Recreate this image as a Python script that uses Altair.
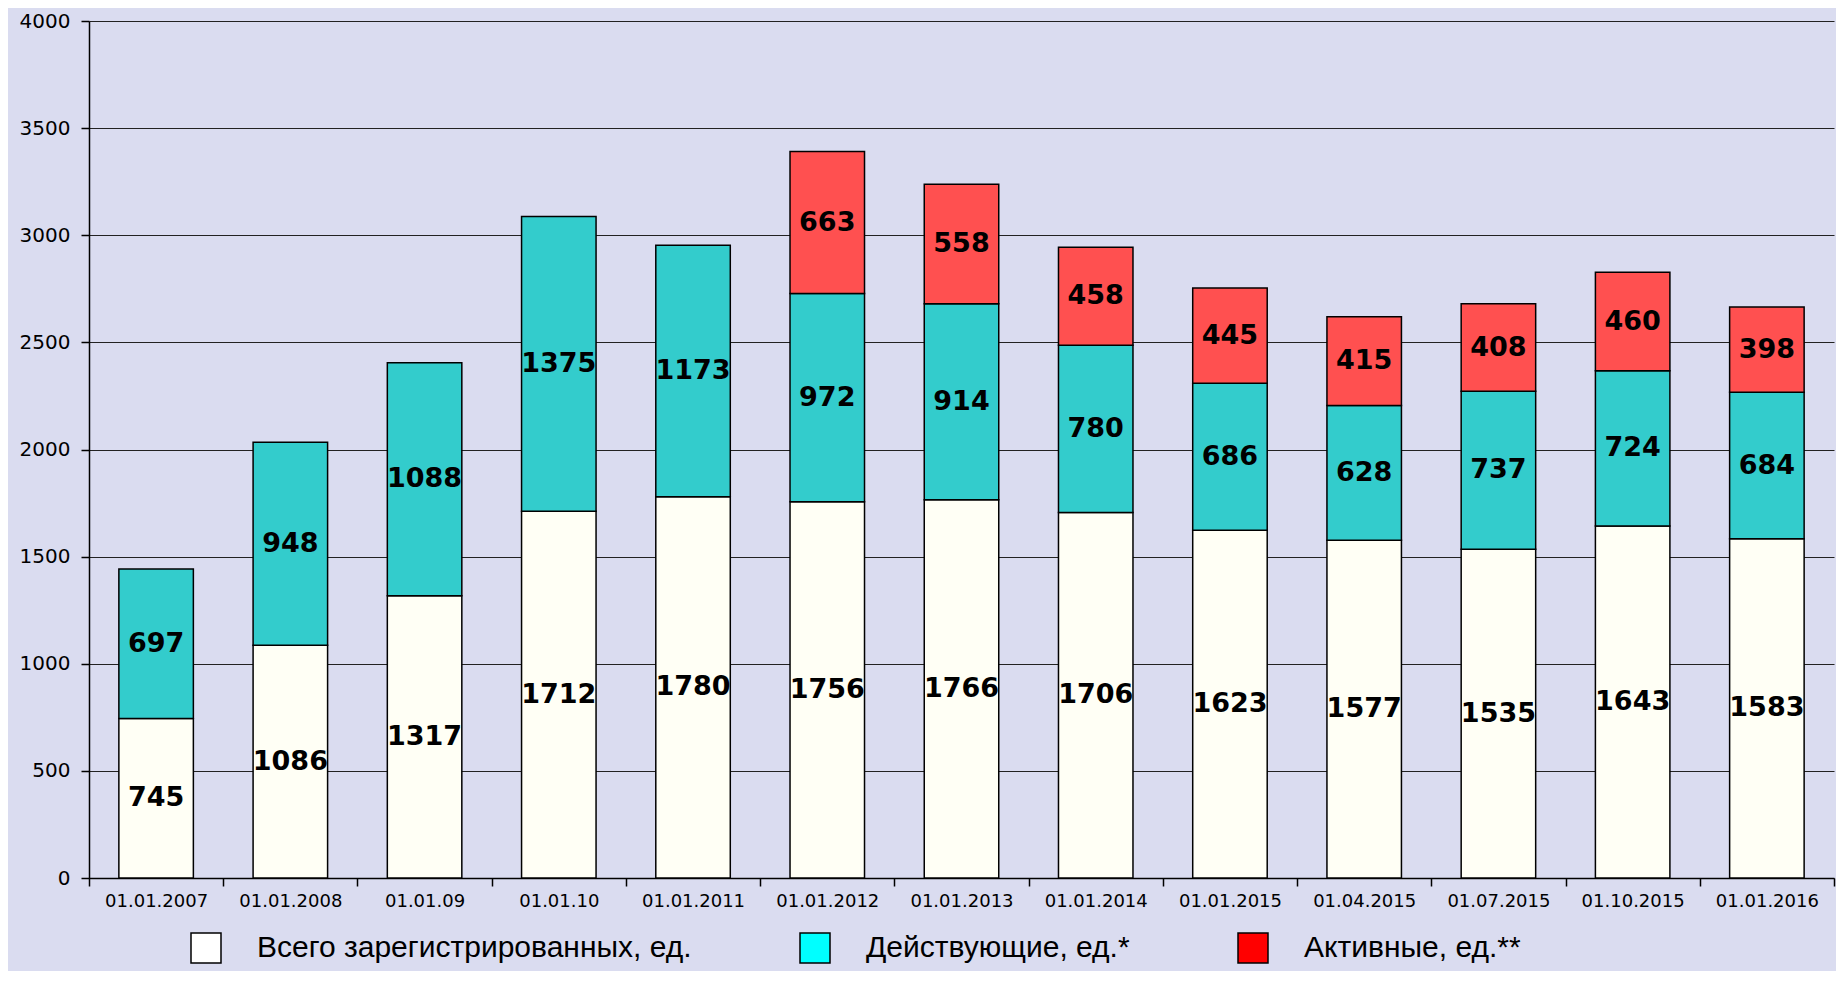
import altair as alt
import pandas as pd

dates = ["01.01.2007", "01.01.2008", "01.01.09", "01.01.10", "01.01.2011",
         "01.01.2012", "01.01.2013", "01.01.2014", "01.01.2015", "01.04.2015",
         "01.07.2015", "01.10.2015", "01.01.2016"]
total_registered = [745, 1086, 1317, 1712, 1780, 1756, 1766, 1706, 1623, 1577, 1535, 1643, 1583]
operating = [697, 948, 1088, 1375, 1173, 972, 914, 780, 686, 628, 737, 724, 684]
active = [None, None, None, None, None, 663, 558, 458, 445, 415, 408, 460, 398]

series_names = ["Всего зарегистрированных, ед.", "Действующие, ед.*", "Активные, ед.**"]
bar_colors = ["#FFFFF5", "#33CCCC", "#FF5050"]
legend_colors = ["#FFFFFF", "#00FFFF", "#FF0000"]

rows = []
for i, d in enumerate(dates):
    for k, vals in enumerate([total_registered, operating, active]):
        v = vals[i]
        if v is not None:
            rows.append({"date": d, "series": series_names[k], "order": k, "value": v})
df = pd.DataFrame(rows)

x_enc = alt.X(
    "date:N", sort=dates, title=None,
    scale=alt.Scale(paddingInner=0, paddingOuter=0),
    axis=alt.Axis(labelAngle=0, tickBand="extent", domainColor="black", domainWidth=1.5,
                  tickColor="black", tickSize=8, tickWidth=1.5, labelFont="DejaVu Sans",
                  labelFontSize=18, labelColor="black", labelPadding=6, grid=False),
)
y_axis = alt.Axis(values=list(range(0, 4001, 500)), format="d", title=None, grid=True,
                  gridColor="#222222", gridWidth=1, domainColor="black", domainWidth=1.5,
                  tickColor="black", tickSize=8, tickWidth=1.5, labelFont="DejaVu Sans",
                  labelFontSize=20, labelColor="black", labelPadding=11)

base = alt.Chart(df).transform_stack(
    stack="value", groupby=["date"], as_=["y0", "y1"], sort=[alt.SortField("order")]
).transform_calculate(mid="(datum.y0 + datum.y1) / 2")

bars = base.mark_bar(width=alt.RelativeBandSize(0.555), stroke="black", strokeWidth=1.5).encode(
    x=x_enc,
    y=alt.Y("y1:Q", scale=alt.Scale(domain=[0, 4000]), axis=y_axis),
    y2="y0:Q",
    color=alt.Color("series:N", scale=alt.Scale(domain=series_names, range=bar_colors), legend=None),
)

labels = base.mark_text(font="DejaVu Sans", fontWeight="bold", fontSize=27, color="black",
                        baseline="middle", align="center").encode(
    x=alt.X("date:N", sort=dates),
    y=alt.Y("mid:Q"),
    text=alt.Text("value:Q", format="d"),
)

legend_layer = alt.Chart(df).mark_square(opacity=1).encode(
    color=alt.Color(
        "series:N",
        scale=alt.Scale(domain=series_names, range=legend_colors),
        legend=alt.Legend(orient="none", legendX=101, legendY=911, direction="horizontal",
                          title=None, symbolType="square", symbolSize=900,
                          symbolStrokeColor="black", symbolStrokeWidth=1.5, symbolOpacity=1,
                          labelFont="Liberation Sans", labelFontSize=30, labelColor="black",
                          labelOffset=35, columnPadding=105, labelLimit=0, padding=0),
    )
).transform_filter("false")

chart = alt.layer(bars, labels, legend_layer).resolve_scale(color="independent").properties(
    width=1745, height=857,
    padding={"left": 81, "top": 13, "right": 2, "bottom": 93},
    autosize=alt.AutoSizeParams(type="none"),
    background="#dadcf0",
).configure_view(stroke=None)

chart.save("out.html", embed_options={"renderer": "svg", "actions": False})
